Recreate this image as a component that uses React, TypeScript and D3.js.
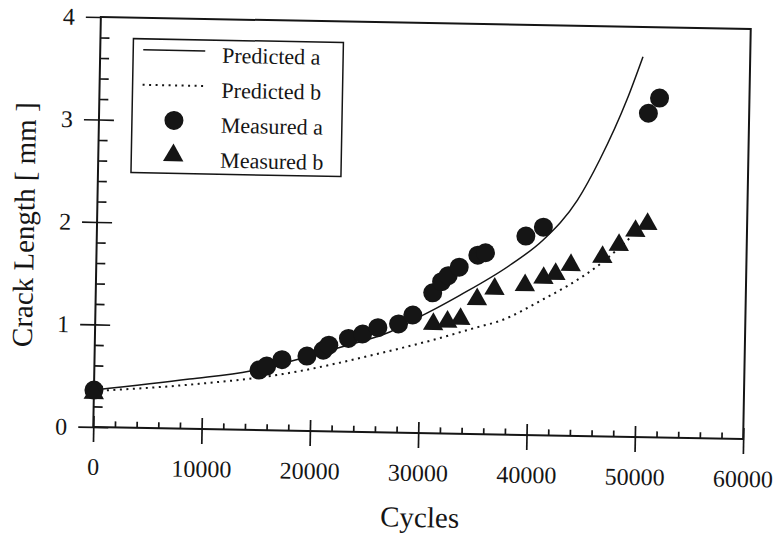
import * as d3 from "d3";
import { useEffect, useRef } from "react";

// measured points (cycles, crack length in mm)
const cyclesA = [0, 15200, 15900, 17300, 19600, 21100, 21600, 23400, 24700, 26100, 28000, 29300, 31100, 31900, 32500, 33500, 35200, 35900, 39600, 41200, 50700, 51700];
const measuredA = [0.36, 0.585, 0.625, 0.69, 0.73, 0.79, 0.84, 0.91, 0.955, 1.02, 1.06, 1.15, 1.37, 1.48, 1.54, 1.625, 1.745, 1.77, 1.94, 2.03, 3.16, 3.31];

const cyclesB = [0, 31200, 32500, 33700, 35200, 36800, 39600, 41300, 42400, 43800, 46700, 48200, 49700, 50800];
const measuredB = [0.33, 1.065, 1.09, 1.12, 1.315, 1.42, 1.46, 1.535, 1.575, 1.665, 1.75, 1.87, 2.01, 2.08];

// predicted curves
const predCyclesA = [0, 8800, 14400, 18200, 22600, 27200, 30600, 33600, 38200, 41200, 44300, 46300, 48700, 50100];
const predictedA = [0.36, 0.485, 0.575, 0.68, 0.82, 0.98, 1.17, 1.35, 1.655, 1.905, 2.3, 2.7, 3.29, 3.71];

const predCyclesB = [0, 8800, 17400, 26300, 31200, 35200, 37400, 41200, 43500, 46500, 49300];
const predictedB = [0.35, 0.43, 0.55, 0.77, 0.91, 1.04, 1.11, 1.32, 1.46, 1.68, 1.95];

const xTicks = [0, 10000, 20000, 30000, 40000, 50000, 60000];
const yTicks = [0, 1, 2, 3, 4];
const legendLabels = ["Predicted a", "Predicted b", "Measured a", "Measured b"];

const W = 779;
const H = 540;
const left = 97, right = 747, top = 23, bottom = 433;
const ink = "#151515";
const font = "'Liberation Serif', 'Times New Roman', serif";

function CrackChart() {
  const svgRef = useRef(null);

  useEffect(() => {
    const svg = d3.select(svgRef.current);
    svg.selectAll("*").remove();
    // the scanned figure is tilted by about a degree
    const g = svg.append("g").attr("transform", "rotate(1.06, 422, 228)");

    const x = d3.scaleLinear().domain([0, 60000]).range([left, right]);
    const y = d3.scaleLinear().domain([0, 4]).range([bottom, top]);

    const xMinor = d3.range(0, 60000, 2000).filter((v) => v % 10000 !== 0);
    const yMinor = d3.range(0, 4, 0.2).filter((v) => Math.abs(v - Math.round(v)) > 0.01);

    // frame
    g.append("rect")
      .attr("x", left).attr("y", top)
      .attr("width", right - left).attr("height", bottom - top)
      .attr("fill", "none").attr("stroke", ink).attr("stroke-width", 2);

    // x axis: outer ticks with labels, inner ticks, minor ticks
    const xOut = g.append("g").attr("transform", `translate(0,${bottom})`)
      .call(d3.axisBottom(x).tickValues(xTicks).tickSize(15).tickPadding(16).tickFormat(d3.format("d")));
    const xIn = g.append("g").attr("transform", `translate(0,${bottom})`)
      .call(d3.axisTop(x).tickValues(xTicks).tickSize(11).tickFormat(() => ""));
    const xMin = g.append("g").attr("transform", `translate(0,${bottom})`)
      .call(d3.axisTop(x).tickValues(xMinor).tickSize(6).tickFormat(() => ""));

    const yOut = g.append("g").attr("transform", `translate(${left},0)`)
      .call(d3.axisLeft(y).tickValues(yTicks).tickSize(15).tickPadding(11).tickFormat(d3.format("d")));
    const yIn = g.append("g").attr("transform", `translate(${left},0)`)
      .call(d3.axisRight(y).tickValues(yTicks.slice(0, 4)).tickSize(15).tickFormat(() => ""));
    const yMin = g.append("g").attr("transform", `translate(${left},0)`)
      .call(d3.axisRight(y).tickValues(yMinor).tickSize(9).tickFormat(() => ""));

    [xOut, xIn, xMin, yOut, yIn, yMin].forEach((a) => {
      a.select(".domain").remove();
      a.selectAll("line").attr("stroke", ink).attr("stroke-width", 1.7);
      a.selectAll("text")
        .attr("fill", ink)
        .style("font-family", font)
        .style("font-size", "24px");
    });

    // axis titles
    g.append("text")
      .attr("x", (left + right) / 2 + 3).attr("y", 527)
      .attr("text-anchor", "middle")
      .style("font-family", font).style("font-size", "29px")
      .attr("fill", ink)
      .text("Cycles");
    g.append("text")
      .attr("transform", `translate(34,${(top + bottom) / 2 + 4}) rotate(-90)`)
      .attr("text-anchor", "middle")
      .style("font-family", font).style("font-size", "29px")
      .attr("fill", ink)
      .text("Crack Length [ mm ]");

    // predicted curves
    const line = d3.line().x((d) => x(d[0])).y((d) => y(d[1])).curve(d3.curveMonotoneX);
    g.append("path")
      .attr("d", line(predCyclesA.map((c, i) => [c, predictedA[i]])))
      .attr("fill", "none").attr("stroke", ink).attr("stroke-width", 1.5);
    g.append("path")
      .attr("d", line(predCyclesB.map((c, i) => [c, predictedB[i]])))
      .attr("fill", "none").attr("stroke", ink).attr("stroke-width", 2)
      .attr("stroke-dasharray", "2,4.5");

    // measured points
    const tri = d3.symbol().type(d3.symbolTriangle).size(180);
    g.selectAll(".pa")
      .data(cyclesA.map((c, i) => [c, measuredA[i]]))
      .join("circle")
      .attr("class", "pa")
      .attr("cx", (d) => x(d[0])).attr("cy", (d) => y(d[1]))
      .attr("r", 9.5).attr("fill", ink);
    g.selectAll(".pb")
      .data(cyclesB.map((c, i) => [c, measuredB[i]]))
      .join("path")
      .attr("class", "pb")
      .attr("transform", (d) => `translate(${x(d[0])},${y(d[1])})`)
      .attr("d", tri()).attr("fill", ink);

    // legend
    const lg = g.append("g").attr("transform", "translate(130,44)");
    lg.append("rect").attr("width", 210).attr("height", 134)
      .attr("fill", "#fff").attr("stroke", ink).attr("stroke-width", 1.5);
    const rowY = (i) => 11 + i * 35;
    lg.append("line").attr("x1", 10).attr("x2", 72).attr("y1", rowY(0)).attr("y2", rowY(0))
      .attr("stroke", ink).attr("stroke-width", 1.5);
    lg.append("line").attr("x1", 10).attr("x2", 72).attr("y1", rowY(1)).attr("y2", rowY(1))
      .attr("stroke", ink).attr("stroke-width", 2).attr("stroke-dasharray", "2,4.5");
    lg.append("circle").attr("cx", 42).attr("cy", rowY(2)).attr("r", 9.5).attr("fill", ink);
    lg.append("path").attr("transform", `translate(42,${rowY(3)})`).attr("d", tri()).attr("fill", ink);
    lg.selectAll(".lt")
      .data(legendLabels)
      .join("text")
      .attr("class", "lt")
      .attr("x", 89).attr("y", (d, i) => rowY(i) + 11.5)
      .style("font-family", font).style("font-size", "22px")
      .attr("fill", ink)
      .text((d) => d);
  }, []);

  return (
    <svg ref={svgRef} width={W} height={H}
      style={{ position: "absolute", left: 0, top: 0, background: "#fff" }} />
  );
}

export default function App() {
  return <CrackChart />;
}
